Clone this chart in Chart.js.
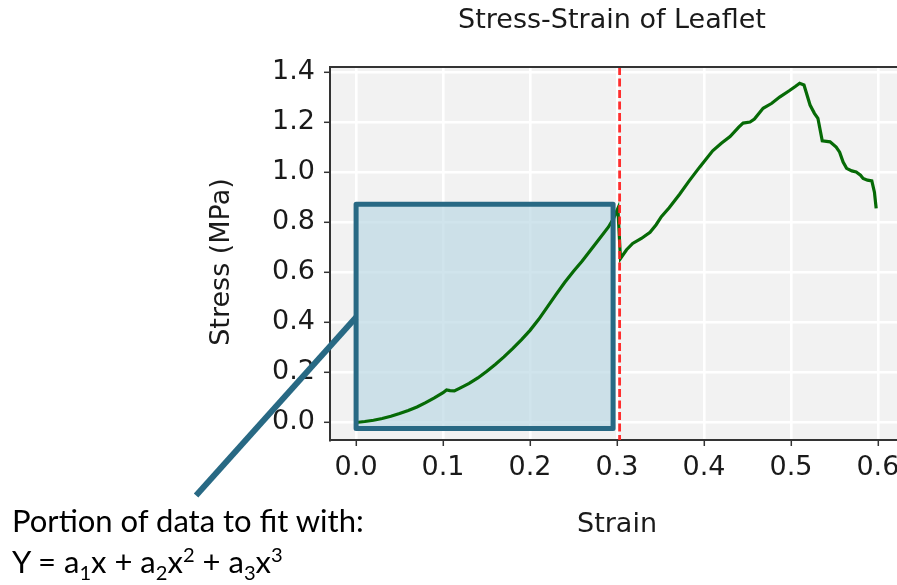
<!DOCTYPE html>
<html>
<head>
<meta charset="utf-8">
<title>Stress-Strain of Leaflet</title>
<script src="https://cdn.jsdelivr.net/npm/chart.js@4.4.1/dist/chart.umd.min.js"></script>
<style>
  html, body { margin: 0; padding: 0; background: #fff; overflow: hidden; }
  #wrap { position: relative; width: 897px; height: 585px; overflow: hidden; }
  #chart { position: absolute; left: 0; top: 0; }
  .note {
    position: absolute; left: 12px; white-space: nowrap;
    font-family: Lato, "Open Sans", sans-serif; font-size: 31px; line-height: 1; color: #000;
  }
  .note sub, .note sup { font-size: 0.65em; line-height: 0; }
</style>
</head>
<body>
<div id="wrap">
  <canvas id="chart" width="920" height="585" style="width:920px;height:585px"></canvas>
  <div class="note" style="top:505px">Portion of data to fit with:</div>
  <div class="note" style="top:546px">Y = a<sub>1</sub>x + a<sub>2</sub>x<sup>2</sup> + a<sub>3</sub>x<sup>3</sup></div>
</div>
<script>
// tensile test of a leaflet sample
var strain = [
  0.000, 0.010, 0.020, 0.030, 0.040, 0.050, 0.060, 0.070, 0.080, 0.090,
  0.100, 0.104, 0.108, 0.113, 0.120, 0.130, 0.140, 0.150, 0.160, 0.170,
  0.180, 0.190, 0.200, 0.210, 0.220, 0.230, 0.240, 0.250, 0.260, 0.270,
  0.280, 0.290, 0.296, 0.301,
  0.304, 0.311, 0.318, 0.328, 0.338, 0.345, 0.351, 0.360, 0.372, 0.383,
  0.395, 0.410, 0.420, 0.430, 0.440, 0.445, 0.453, 0.458, 0.468, 0.478,
  0.487, 0.498, 0.505, 0.510, 0.515, 0.522, 0.527, 0.531, 0.536, 0.545,
  0.552, 0.556, 0.560, 0.564, 0.570, 0.575, 0.580, 0.583, 0.588, 0.593,
  0.596, 0.598
];
var stress = [
  0.000, 0.004, 0.009, 0.016, 0.025, 0.036, 0.048, 0.062, 0.079, 0.098,
  0.119, 0.130, 0.127, 0.126, 0.138, 0.156, 0.178, 0.204, 0.232, 0.262,
  0.295, 0.330, 0.368, 0.412, 0.462, 0.512, 0.560, 0.604, 0.645, 0.690,
  0.735, 0.780, 0.815, 0.855,
  0.655, 0.690, 0.715, 0.735, 0.760, 0.790, 0.822, 0.858, 0.912, 0.965,
  1.020, 1.085, 1.115, 1.142, 1.180, 1.196, 1.200, 1.212, 1.255, 1.275,
  1.300, 1.325, 1.342, 1.355, 1.348, 1.268, 1.235, 1.215, 1.125, 1.121,
  1.100, 1.080, 1.040, 1.015, 1.005, 1.001, 0.988, 0.975, 0.968, 0.965,
  0.920, 0.855
];

var xTicks = [0.0, 0.1, 0.2, 0.3, 0.4, 0.5, 0.6];
var yTicks = [0.0, 0.2, 0.4, 0.6, 0.8, 1.0, 1.2, 1.4];

var yieldStrain = 0.303;
var fitStrain = [0.0, 0.2955];
var fitStress = [-0.024, 0.872];
var pointerFrom = [-0.184, -0.292];
var pointerTo = [0.0, 0.42];

var chartTitle = 'Stress-Strain of Leaflet';
var xTitle = 'Strain';
var yTitle = 'Stress (MPa)';

var axisFont = { family: '"DejaVu Sans", sans-serif', size: 27 };
var inkColor = '#1a1a1a';
var spineColor = '#333333';
var boxBlue = 'rgb(40, 105, 132)';

var plotDecor = {
  id: 'plotDecor',
  beforeDraw: function(chart) {
    var a = chart.chartArea, c = chart.ctx;
    c.save();
    c.fillStyle = '#f2f2f2';
    c.fillRect(a.left, a.top, a.right - a.left, a.bottom - a.top);
    c.restore();
  },
  beforeDatasetsDraw: function(chart) {
    var c = chart.ctx, sx = chart.scales.x, sy = chart.scales.y;
    var x0 = sx.getPixelForValue(fitStrain[0]), x1 = sx.getPixelForValue(fitStrain[1]);
    var y0 = sy.getPixelForValue(fitStress[1]), y1 = sy.getPixelForValue(fitStress[0]);
    c.save();
    c.fillStyle = 'rgba(183, 213, 226, 0.65)';
    c.fillRect(x0, y0, x1 - x0, y1 - y0);
    c.restore();
  },
  afterDatasetsDraw: function(chart) {
    var c = chart.ctx, a = chart.chartArea, sx = chart.scales.x, sy = chart.scales.y;
    var x0 = sx.getPixelForValue(fitStrain[0]), x1 = sx.getPixelForValue(fitStrain[1]);
    var y0 = sy.getPixelForValue(fitStress[1]), y1 = sy.getPixelForValue(fitStress[0]);
    c.save();
    // yield line
    var xv = sx.getPixelForValue(yieldStrain);
    c.strokeStyle = 'rgba(255, 35, 35, 0.95)';
    c.lineWidth = 2.8;
    c.setLineDash([8, 3.5]);
    c.beginPath();
    c.moveTo(xv, a.top);
    c.lineTo(xv, a.bottom);
    c.stroke();
    c.setLineDash([]);
    // fit region outline
    c.strokeStyle = boxBlue;
    c.lineWidth = 5;
    c.lineJoin = 'round';
    c.strokeRect(x0, y0, x1 - x0, y1 - y0);
    // pointer to the note
    c.lineWidth = 6;
    c.beginPath();
    c.moveTo(sx.getPixelForValue(pointerFrom[0]), sy.getPixelForValue(pointerFrom[1]));
    c.lineTo(sx.getPixelForValue(pointerTo[0]), sy.getPixelForValue(pointerTo[1]));
    c.stroke();
    c.restore();
  },
  afterDraw: function(chart) {
    var c = chart.ctx, a = chart.chartArea;
    c.save();
    c.strokeStyle = spineColor;
    c.lineWidth = 2;
    c.beginPath();
    c.moveTo(a.left, a.top);
    c.lineTo(a.right, a.top);
    c.stroke();

    c.fillStyle = inkColor;
    c.font = '27px "DejaVu Sans", sans-serif';
    c.textAlign = 'center';
    c.textBaseline = 'alphabetic';
    c.fillText(chartTitle, 612, 28);
    c.fillText(xTitle, (a.left + a.right) / 2, 532);
    c.translate(222, 262);
    c.rotate(-Math.PI / 2);
    c.textBaseline = 'middle';
    c.fillText(yTitle, 0, 0);
    c.restore();
  }
};

var ctx = document.getElementById('chart').getContext('2d');

new Chart(ctx, {
  type: 'line',
  data: {
    datasets: [{
      data: strain.map(function(v, i) { return { x: v, y: stress[i] }; }),
      borderColor: '#066a06',
      borderWidth: 3.2,
      pointRadius: 0,
      tension: 0,
      fill: false
    }]
  },
  options: {
    responsive: false,
    animation: false,
    layout: { padding: { top: 67, right: 16, left: 0, bottom: 0 } },
    plugins: {
      legend: { display: false },
      tooltip: { enabled: false },
      title: { display: false }
    },
    scales: {
      x: {
        type: 'linear',
        min: -0.03,
        max: 0.63,
        afterBuildTicks: function(s) { s.ticks = xTicks.map(function(v) { return { value: v }; }); },
        afterFit: function(s) { s.height = 145; s.paddingLeft = 0; s.paddingRight = 0; },
        grid: { color: '#ffffff', lineWidth: 2.6, tickColor: spineColor, tickWidth: 1.5, tickLength: 6 },
        border: { display: true, color: spineColor, width: 2 },
        ticks: {
          font: axisFont, color: inkColor, padding: 6, maxRotation: 0, autoSkip: false,
          callback: function(v) { return Number(v).toFixed(1); }
        }
      },
      y: {
        type: 'linear',
        min: -0.07,
        max: 1.42,
        afterBuildTicks: function(s) { s.ticks = yTicks.map(function(v) { return { value: v }; }); },
        afterFit: function(s) { s.width = 330; s.paddingTop = 0; s.paddingBottom = 0; },
        grid: { color: '#ffffff', lineWidth: 2.6, tickColor: spineColor, tickWidth: 1.5, tickLength: 6 },
        border: { display: true, color: spineColor, width: 2 },
        ticks: {
          font: axisFont, color: inkColor, padding: 9, autoSkip: false,
          callback: function(v) { return Number(v).toFixed(1); }
        }
      }
    }
  },
  plugins: [plotDecor]
});
</script>
</body>
</html>
